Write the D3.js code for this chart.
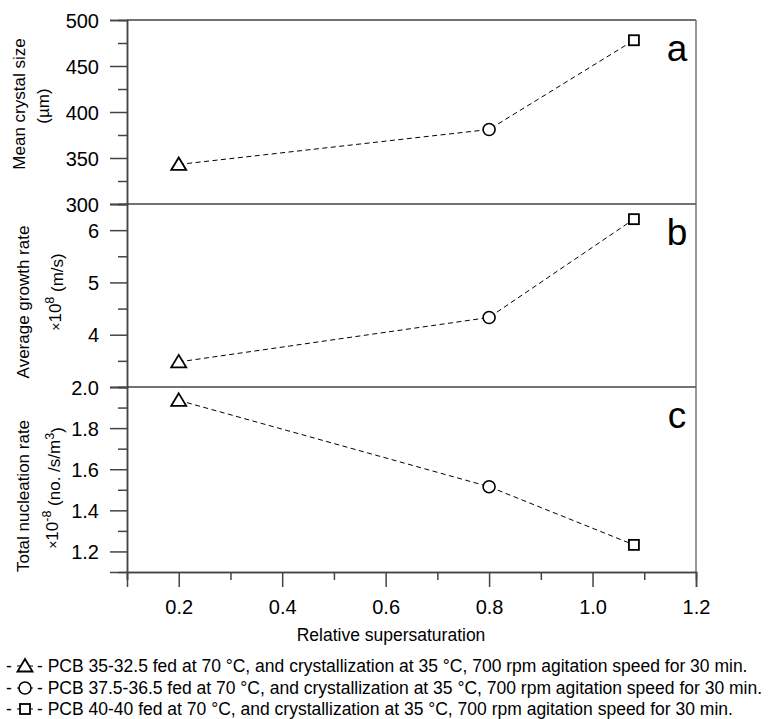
<!DOCTYPE html>
<html>
<head>
<meta charset="utf-8">
<style>
  body { margin: 0; background: #fff; }
  svg text { font-family: "Liberation Sans", Arial, sans-serif; fill: #000; }
</style>
</head>
<body>
<script src="https://d3js.org/d3.v7.min.js"></script>
<script>
// data
var supersat = [0.2, 0.8, 1.08];
var crystalSize = [343, 381, 478];
var growthRate = [3.48, 4.33, 6.21];
var nucleationRate = [1.935, 1.515, 1.232];
var markerTypes = ["triangle", "circle", "square"];
var legendLabels = [
  "PCB 35-32.5 fed at 70 \u00B0C, and crystallization at 35 \u00B0C, 700 rpm agitation speed for 30 min.",
  "PCB 37.5-36.5 fed at 70 \u00B0C, and crystallization at 35 \u00B0C, 700 rpm agitation speed for 30 min.",
  "PCB 40-40 fed at 70 \u00B0C, and crystallization at 35 \u00B0C, 700 rpm agitation speed for 30 min."
];
var xTicks = [0.2, 0.4, 0.6, 0.8, 1.0, 1.2];
var xMinor = [0.1, 0.3, 0.5, 0.7, 0.9, 1.1];

var width = 772, height = 719;
var left = 127, right = 696;
var axisColor = "#444";

var svg = d3.select("body").append("svg")
    .attr("width", width)
    .attr("height", height);

var x = d3.scaleLinear().domain([0.1, 1.2]).range([left, right]);

// panels, top to bottom
var panels = [
  { values: crystalSize, domain: [300, 500], top: 20, bottom: 204,
    major: [300, 350, 400, 450, 500], minor: [325, 375, 425, 475], fmt: d3.format("d"),
    letter: "a", t1: { x: 25, y: 104 }, t2: { x: 49, y: 106 } },
  { values: growthRate, domain: [3, 6.5], top: 204, bottom: 387,
    major: [4, 5, 6], minor: [3.5, 4.5, 5.5], fmt: d3.format("d"),
    letter: "b", t1: { x: 29, y: 302 }, t2: { x: 61, y: 292 } },
  { values: nucleationRate, domain: [1.1, 2.0], top: 387, bottom: 572,
    major: [1.2, 1.4, 1.6, 1.8, 2.0], minor: [1.3, 1.5, 1.7, 1.9], fmt: d3.format(".1f"),
    letter: "c", t1: { x: 29, y: 496 }, t2: { x: 58, y: 488 } }
];

function drawMarker(g, type, cx, cy) {
  if (type === "triangle") {
    g.append("path")
      .attr("d", "M" + cx + "," + (cy - 7) + "L" + (cx + 7.5) + "," + (cy + 5.5) + "L" + (cx - 7.5) + "," + (cy + 5.5) + "Z")
      .attr("fill", "#fff").attr("stroke", "#000").attr("stroke-width", 1.8);
  } else if (type === "circle") {
    g.append("circle").attr("cx", cx).attr("cy", cy).attr("r", 6)
      .attr("fill", "#fff").attr("stroke", "#000").attr("stroke-width", 1.6);
  } else {
    g.append("rect").attr("x", cx - 5).attr("y", cy - 5).attr("width", 10).attr("height", 10)
      .attr("fill", "#fff").attr("stroke", "#000").attr("stroke-width", 1.8);
  }
}

panels.forEach(function(p, pi) {
  var y = d3.scaleLinear().domain(p.domain).range([p.bottom, p.top]);
  var g = svg.append("g");

  // frame lines: top and right
  g.append("line").attr("x1", left).attr("x2", right).attr("y1", p.top).attr("y2", p.top)
    .attr("stroke", axisColor).attr("stroke-width", 1.5);
  g.append("line").attr("x1", right).attr("x2", right).attr("y1", p.top).attr("y2", p.bottom)
    .attr("stroke", "#777").attr("stroke-width", 1.5);

  // left axis
  var ax = g.append("g").attr("transform", "translate(" + left + ",0)");
  ax.call(d3.axisLeft(y).tickValues(p.major).tickSize(17).tickFormat(p.fmt).tickPadding(11));
  ax.selectAll(".tick text").style("font-size", "20px").attr("dy", "0.36em");
  var ax2 = g.append("g").attr("transform", "translate(" + left + ",0)");
  ax2.call(d3.axisLeft(y).tickValues(p.minor).tickSize(9).tickFormat(""));
  g.selectAll(".domain").attr("stroke", axisColor).attr("stroke-width", 1.5);
  g.selectAll(".tick line").attr("stroke", axisColor).attr("stroke-width", 1.5);

  // dashed connector
  var pts = supersat.map(function(s, i) { return [x(s), y(p.values[i])]; });
  g.append("path")
    .attr("d", d3.line()(pts))
    .attr("fill", "none").attr("stroke", "#000").attr("stroke-width", 1)
    .attr("stroke-dasharray", "5,3.5");

  pts.forEach(function(pt, i) { drawMarker(g, markerTypes[i], pt[0], pt[1]); });

  // panel letter
  g.append("text").attr("x", 677).attr("y", p.top + 41)
    .attr("text-anchor", "middle").style("font-size", "37px").text(p.letter);
});

// bottom x axis
var xa = svg.append("g").attr("transform", "translate(0,572)");
xa.call(d3.axisBottom(x).tickValues(xTicks).tickSize(15).tickFormat(d3.format(".1f")).tickPadding(13));
xa.selectAll(".tick text").style("font-size", "20px");
var xa2 = svg.append("g").attr("transform", "translate(0,572)");
xa2.call(d3.axisBottom(x).tickValues(xMinor).tickSize(8).tickFormat(""));
svg.selectAll(".domain").attr("stroke", axisColor).attr("stroke-width", 1.5);
svg.selectAll(".tick line").attr("stroke", axisColor).attr("stroke-width", 1.5);

svg.append("text").attr("x", 391).attr("y", 641)
  .attr("text-anchor", "middle").style("font-size", "17.5px").text("Relative supersaturation");

// y titles
function yTitle(px, py, build) {
  var t = svg.append("text")
    .attr("transform", "translate(" + px + "," + py + ") rotate(-90)")
    .attr("text-anchor", "middle").style("font-size", "17px");
  build(t);
}
yTitle(panels[0].t1.x, panels[0].t1.y, function(t) { t.text("Mean crystal size"); });
yTitle(panels[0].t2.x, panels[0].t2.y, function(t) { t.text("(\u00B5m)"); });
yTitle(panels[1].t1.x, panels[1].t1.y, function(t) { t.text("Average growth rate"); });
yTitle(panels[1].t2.x, panels[1].t2.y, function(t) {
  t.append("tspan").style("font-size", "14px").text("\u00D7");
  t.append("tspan").text("10");
  t.append("tspan").attr("dy", "-0.55em").style("font-size", "12.5px").text("8");
  t.append("tspan").attr("dy", "0.55em").text(" (m/s)");
});
yTitle(panels[2].t1.x, panels[2].t1.y, function(t) { t.text("Total nucleation rate"); });
yTitle(panels[2].t2.x, panels[2].t2.y, function(t) {
  t.append("tspan").style("font-size", "14px").text("\u00D7");
  t.append("tspan").text("10");
  t.append("tspan").attr("dy", "-0.55em").style("font-size", "12.5px").text("-8");
  t.append("tspan").attr("dy", "0.55em").text(" (no. /s/m");
  t.append("tspan").attr("dy", "-0.55em").style("font-size", "12.5px").text("3");
  t.append("tspan").attr("dy", "0.55em").text(")");
});

// legend
var legendY = [672, 694, 715];
legendLabels.forEach(function(label, i) {
  var ly = legendY[i];
  var lg = svg.append("g");
  lg.append("text").attr("x", 6).attr("y", ly).style("font-size", "17.5px").attr("fill", "#333").text("-");
  lg.append("line").attr("x1", 17).attr("x2", 33).attr("y1", ly - 6).attr("y2", ly - 6)
    .attr("stroke", "#000").attr("stroke-width", 1);
  drawMarker(lg, markerTypes[i], 25, ly - 6);
  lg.append("text").attr("x", 37).attr("y", ly).style("font-size", "17.5px")
    .text("- " + label);
});
</script>
</body>
</html>
